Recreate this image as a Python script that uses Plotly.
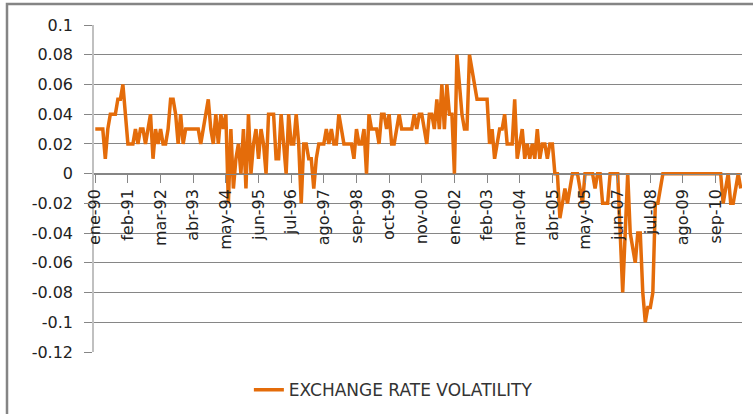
import plotly.graph_objects as go

# Monthly exchange rate volatility, ene-90 ... 2011
volatility = [
    0.03, 0.03, 0.03, 0.03, 0.01, 0.03, 0.04, 0.04, 0.04, 0.05, 0.05, 0.06, 0.04,
    0.02, 0.02, 0.02, 0.03, 0.02, 0.03, 0.03, 0.02, 0.03, 0.04, 0.01, 0.03, 0.02,
    0.03, 0.02, 0.02, 0.03, 0.05, 0.05, 0.04, 0.02, 0.04, 0.02, 0.03, 0.03, 0.03,
    0.03, 0.03, 0.03, 0.02, 0.03, 0.04, 0.05, 0.03, 0.02, 0.04, 0.02, 0.04, 0.03,
    0.04, -0.02, 0.03, -0.01, 0.01, 0.02, 0.00, 0.03, -0.01, 0.04, 0.00, 0.02, 0.03,
    0.01, 0.03, 0.02, 0.00, 0.04, 0.04, 0.04, 0.01, 0.01, 0.04, 0.02, 0.00, 0.04,
    0.02, 0.02, 0.04, 0.02, -0.02, 0.02, 0.02, 0.01, 0.01, -0.01, 0.01, 0.02, 0.02,
    0.02, 0.03, 0.02, 0.03, 0.02, 0.02, 0.04, 0.03, 0.02, 0.02, 0.02, 0.02, 0.01,
    0.03, 0.02, 0.02, 0.03, 0.00, 0.04, 0.03, 0.03, 0.03, 0.02, 0.04, 0.04, 0.03,
    0.04, 0.02, 0.02, 0.03, 0.04, 0.03, 0.03, 0.03, 0.03, 0.03, 0.04, 0.03, 0.04,
    0.04, 0.03, 0.02, 0.04, 0.04, 0.03, 0.05, 0.03, 0.06, 0.03, 0.06, 0.04, 0.04,
    0.00, 0.08, 0.06, 0.04, 0.03, 0.03, 0.08, 0.07, 0.06, 0.05, 0.05, 0.05, 0.05,
    0.05, 0.02, 0.03, 0.01, 0.02, 0.03, 0.03, 0.04, 0.02, 0.02, 0.02, 0.05, 0.01,
    0.02, 0.03, 0.01, 0.02, 0.01, 0.02, 0.01, 0.03, 0.01, 0.02, 0.02, 0.01, 0.02,
    0.02, 0.00, 0.00, -0.03, -0.02, -0.01, -0.02, -0.01, 0.00, 0.00, 0.00, -0.01, -0.02,
    0.00, 0.00, 0.00, 0.00, -0.01, 0.00, 0.00, -0.02, -0.02, -0.02, 0.00, 0.00, 0.00,
    0.00, -0.04, -0.08, -0.04, 0.00, -0.04, -0.05, -0.06, -0.04, -0.04, -0.08, -0.10, -0.09,
    -0.09, -0.08, -0.02, -0.02, -0.01, 0.00, 0.00, 0.00, 0.00, 0.00, 0.00, 0.00, 0.00,
    0.00, 0.00, 0.00, 0.00, 0.00, 0.00, 0.00, 0.00, 0.00, 0.00, 0.00, 0.00, 0.00,
    0.00, 0.00, 0.00, -0.02, -0.01, 0.00, -0.02, -0.02, -0.01, 0.00, -0.01,
]

# Category-axis labels (one every 13 months)
month_labels = ["ene-90", "feb-91", "mar-92", "abr-93", "may-94", "jun-95", "jul-96",
                "ago-97", "sep-98", "oct-99", "nov-00", "ene-02", "feb-03", "mar-04",
                "abr-05", "may-05", "jun-07", "jul-08", "ago-09", "sep-10"]
label_step = 13

y_ticks = [0.1, 0.08, 0.06, 0.04, 0.02, 0, -0.02, -0.04, -0.06, -0.08, -0.1, -0.12]
y_tick_text = ["0.1", "0.08", "0.06", "0.04", "0.02", "0", "-0.02", "-0.04",
               "-0.06", "-0.08", "-0.1", "-0.12"]

series_name = "EXCHANGE RATE VOLATILITY"

months = list(range(len(volatility)))
tick_pos = [label_step * k for k in range(len(month_labels))]

ORANGE = "#E46C0A"
GRID = "#868686"
FONT = "DejaVu Sans"

fig = go.Figure()
fig.add_trace(go.Scatter(
    x=months, y=volatility, mode="lines", name=series_name,
    line=dict(color=ORANGE, width=3.5),
))

ymin, ymax = -0.12, 0.1
fig.update_layout(
    width=753, height=414,
    margin=dict(l=94, r=11, t=25, b=62, autoexpand=False),
    paper_bgcolor="white", plot_bgcolor="white",
    font=dict(family=FONT, color="#222222"),
    showlegend=True,
    legend=dict(orientation="h", x=0.239, xanchor="left", y=-0.117, yanchor="middle",
                font=dict(family=FONT, size=17, color="#333333"),
                bgcolor="rgba(0,0,0,0)"),
    xaxis=dict(
        range=[-0.5, len(volatility) - 0.5],
        anchor="free", position=(0 - ymin) / (ymax - ymin),
        showgrid=False, zeroline=False,
        showline=True, linecolor=GRID, linewidth=1,
        ticks="outside", ticklen=8, tickcolor=GRID, tickwidth=1,
        tickmode="array", tickvals=tick_pos, ticktext=month_labels,
        tickangle=-90, tickfont=dict(family=FONT, size=16, color="#222222"),
    ),
    yaxis=dict(
        range=[ymin, ymax],
        showgrid=True, gridcolor=GRID, gridwidth=1,
        zeroline=False,
        showline=True, linecolor="#C0C0C0", linewidth=1.5,
        ticks="outside", ticklen=8, tickcolor=GRID, tickwidth=1,
        tickmode="array", tickvals=y_ticks, ticktext=y_tick_text,
        tickfont=dict(family=FONT, size=16, color="#222222"),
        ticklabelstandoff=8,
    ),
    shapes=[dict(
        type="rect", xref="paper", yref="paper",
        x0=(7 - 94) / 648, x1=1.2, y0=-0.4, y1=(352 - 4) / 327,
        line=dict(color="#858585", width=2.5), fillcolor="rgba(0,0,0,0)", layer="below",
    )],
)

# remove the default 8px page margin so the figure sits at the window origin
fig.write_html("out.html", config={"displayModeBar": False},
               post_script="document.body.style.margin='0';")
